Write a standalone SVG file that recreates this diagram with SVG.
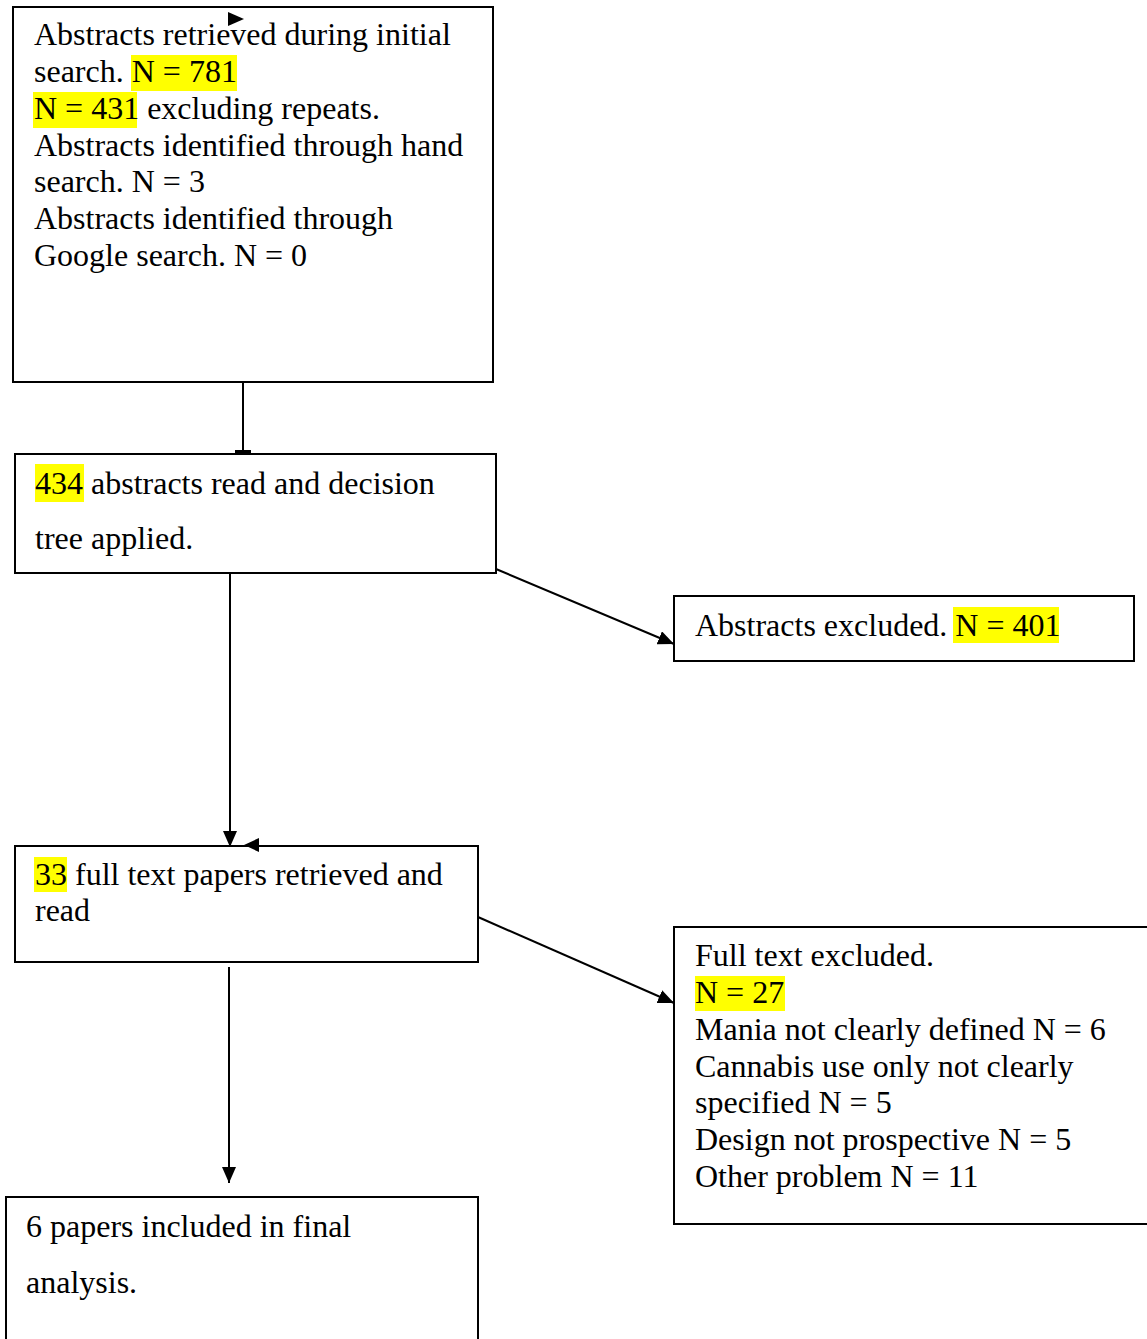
<svg xmlns="http://www.w3.org/2000/svg" width="1147" height="1339" viewBox="0 0 1147 1339">
<style>
.box{fill:#fff;stroke:#000;stroke-width:2}
.t{font-family:"Liberation Serif","Times New Roman",serif;font-size:32px;fill:#000}
.hl{fill:#ffff00}
.ln{stroke:#000;stroke-width:2;fill:none}
</style>
<defs>
<marker id="ah" markerUnits="userSpaceOnUse" markerWidth="16" markerHeight="14" refX="16" refY="7" orient="auto">
<path d="M0,0 L16,7 L0,14 Z" fill="#000"/>
</marker>
</defs>
<rect width="1147" height="1339" fill="#fff"/>

<g id="n1">
<rect class="box" x="13" y="7" width="480" height="375"/>
<rect class="hl" x="131" y="55" width="106" height="36"/>
<rect class="hl" x="33" y="92" width="104" height="36"/>
<text class="t" x="34" y="45">Abstracts retrieved during initial</text>
<text class="t" x="34" y="82">search. N = 781</text>
<text class="t" x="34" y="119">N = 431 excluding repeats.</text>
<text class="t" x="34" y="156">Abstracts identified through hand</text>
<text class="t" x="34" y="192">search. N = 3</text>
<text class="t" x="34" y="229">Abstracts identified through</text>
<text class="t" x="34" y="266">Google search. N = 0</text>
<polygon points="228,12 244,19 228,26" fill="#000"/>
</g>

<g id="n2">
<rect class="box" x="15" y="454" width="481" height="119"/>
<rect class="hl" x="35" y="464" width="49" height="38"/>
<text class="t" x="35" y="494">434 abstracts read and decision</text>
<text class="t" x="35" y="549">tree applied.</text>
</g>

<g id="n3">
<rect class="box" x="674" y="596" width="460" height="65"/>
<rect class="hl" x="953" y="607" width="106" height="36"/>
<text class="t" x="695" y="636">Abstracts excluded. N = 401</text>
</g>

<g id="n4">
<rect class="box" x="15" y="846" width="463" height="116"/>
<rect class="hl" x="34" y="857" width="33" height="35"/>
<text class="t" x="35" y="885">33 full text papers retrieved and</text>
<text class="t" x="35" y="921">read</text>
</g>

<g id="n5">
<rect class="box" x="674" y="927" width="480" height="297"/>
<rect class="hl" x="695" y="976" width="90" height="35"/>
<text class="t" x="695" y="966">Full text excluded.</text>
<text class="t" x="695" y="1003">N = 27</text>
<text class="t" x="695" y="1040">Mania not clearly defined N = 6</text>
<text class="t" x="695" y="1077">Cannabis use only not clearly</text>
<text class="t" x="695" y="1113">specified N = 5</text>
<text class="t" x="695" y="1150">Design not prospective N = 5</text>
<text class="t" x="695" y="1187">Other problem N = 11</text>
</g>

<g id="n6">
<rect class="box" x="6" y="1197" width="472" height="160"/>
<text class="t" x="26" y="1237">6 papers included in final</text>
<text class="t" x="26" y="1293">analysis.</text>
</g>

<g id="connectors">
<line class="ln" x1="243" y1="382" x2="243" y2="452"/>
<rect x="235" y="450" width="16" height="4" fill="#000"/>
<line class="ln" x1="496" y1="569" x2="674" y2="644" marker-end="url(#ah)"/>
<line class="ln" x1="230" y1="573" x2="230" y2="847" marker-end="url(#ah)"/>
<polygon points="244,845 259,838 259,852" fill="#000"/>
<line class="ln" x1="478" y1="917" x2="674" y2="1003" marker-end="url(#ah)"/>
<line class="ln" x1="229" y1="967" x2="229" y2="1183" marker-end="url(#ah)"/>
</g>
</svg>
